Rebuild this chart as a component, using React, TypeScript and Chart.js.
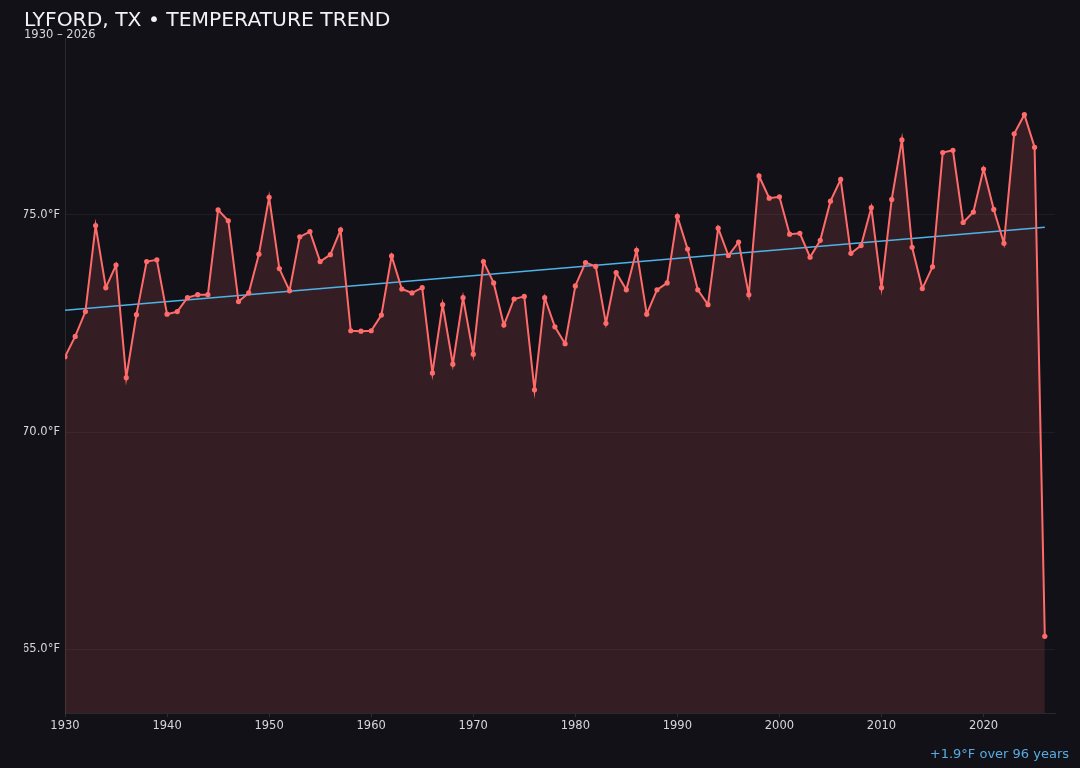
import React, { useEffect, useRef } from "react";
import { Chart, registerables } from "chart.js";

Chart.register(...registerables);

const titleText = "LYFORD, TX • TEMPERATURE TREND";
const subtitleText = "1930 – 2026";
const footerText = "+1.9°F over 96 years";

const years: number[] = [
  1930, 1931, 1932, 1933, 1934, 1935, 1936, 1937, 1938, 1939,
  1940, 1941, 1942, 1943, 1944, 1945, 1946, 1947, 1948, 1949,
  1950, 1951, 1952, 1953, 1954, 1955, 1956, 1957, 1958, 1959,
  1960, 1961, 1962, 1963, 1964, 1965, 1966, 1967, 1968, 1969,
  1970, 1971, 1972, 1973, 1974, 1975, 1976, 1977, 1978, 1979,
  1980, 1981, 1982, 1983, 1984, 1985, 1986, 1987, 1988, 1989,
  1990, 1991, 1992, 1993, 1994, 1995, 1996, 1997, 1998, 1999,
  2000, 2001, 2002, 2003, 2004, 2005, 2006, 2007, 2008, 2009,
  2010, 2011, 2012, 2013, 2014, 2015, 2016, 2017, 2018, 2019,
  2020, 2021, 2022, 2023, 2024, 2025, 2026,
];

const temps: number[] = [
  71.73, 72.2, 72.77, 74.75, 73.32, 73.84, 71.25, 72.7, 73.92, 73.96,
  72.71, 72.77, 73.09, 73.16, 73.16, 75.11, 74.86, 73.0, 73.2, 74.09,
  75.4, 73.76, 73.25, 74.49, 74.61, 73.92, 74.08, 74.65, 72.33, 72.32,
  72.33, 72.69, 74.05, 73.29, 73.2, 73.32, 71.36, 72.93, 71.56, 73.09,
  71.79, 73.92, 73.43, 72.46, 73.06, 73.12, 70.97, 73.09, 72.42, 72.03,
  73.36, 73.9, 73.81, 72.5, 73.67, 73.27, 74.18, 72.71, 73.27, 73.43,
  74.96, 74.21, 73.27, 72.93, 74.69, 74.06, 74.37, 73.16, 75.89, 75.38,
  75.41, 74.55, 74.57, 74.02, 74.41, 75.31, 75.81, 74.11, 74.29, 75.16,
  73.32, 75.35, 76.72, 74.25, 73.3, 73.8, 76.43, 76.48, 74.82, 75.06,
  76.05, 75.12, 74.34, 76.86, 77.3, 76.55, 65.3,
];

const trendYears: number[] = [1930, 2026];
const trendValues: number[] = [72.8, 74.71];

const xTicks: number[] = [1930, 1940, 1950, 1960, 1970, 1980, 1990, 2000, 2010, 2020];
const yTicks: number[] = [65, 70, 75];

const FONT = "DejaVu Sans";

export default function App() {
  const ref = useRef<HTMLCanvasElement | null>(null);

  useEffect(() => {
    if (!ref.current) return;
    const dMin = Math.min(...temps);
    const dMax = Math.max(...temps);
    const pad = (dMax - dMin) * 0.147;

    const footerPlugin = {
      id: "footerNote",
      afterDraw(chart: any) {
        const ctx = chart.ctx;
        ctx.save();
        ctx.font = `13px '${FONT}'`;
        ctx.fillStyle = "#58ace0";
        ctx.textAlign = "right";
        ctx.textBaseline = "middle";
        ctx.fillText(footerText, chart.width - 11, 755);
        ctx.restore();
      },
    };

    const chart = new Chart(ref.current, {
      type: "line",
      data: {
        datasets: [
          {
            label: "Temperature",
            data: years.map((y, i) => ({ x: y, y: temps[i] })),
            borderColor: "#ff6b6b",
            backgroundColor: "rgba(255,107,107,0.15)",
            pointBackgroundColor: "#ff6b6b",
            pointBorderWidth: 0,
            pointRadius: 2.6,
            borderWidth: 2,
            tension: 0,
            fill: "start",
          },
          {
            label: "Trend",
            data: trendYears.map((y, i) => ({ x: y, y: trendValues[i] })),
            borderColor: "#4fb3e8",
            borderWidth: 1.5,
            pointRadius: 0,
            fill: false,
          },
        ],
      },
      options: {
        animation: false,
        responsive: false,
        maintainAspectRatio: false,
        layout: { padding: { top: 9, left: 24, right: 25, bottom: 0 } },
        plugins: {
          legend: { display: false },
          tooltip: { enabled: false },
          filler: { drawTime: "beforeDatasetsDraw" } as any,
          title: {
            display: true,
            text: titleText,
            align: "start",
            color: "#f2f2f4",
            font: { family: FONT, size: 20.3, weight: "normal", lineHeight: "24px" },
            padding: { top: 0, bottom: 0 },
          },
          subtitle: {
            display: true,
            text: subtitleText,
            align: "start",
            color: "#d6d6dc",
            font: { family: FONT, size: 11.5, weight: "normal", lineHeight: "8px" },
            padding: { top: -2, bottom: -1 },
          },
        },
        scales: {
          x: {
            type: "linear",
            min: 1930,
            max: 2027,
            afterBuildTicks: (scale: any) => {
              scale.ticks = xTicks.map((v) => ({ value: v }));
            },
            afterFit: (scale: any) => {
              scale.height = 55;
            },
            ticks: {
              color: "#d6d6dc",
              font: { family: FONT, size: 11.5 },
              padding: 2,
              maxRotation: 0,
              callback: (v: any) => String(v),
            },
            grid: {
              drawOnChartArea: false,
              drawTicks: true,
              tickLength: 4,
              color: "rgba(255,255,255,0.12)",
            },
            border: { color: "rgba(255,255,255,0.1)" },
          },
          y: {
            type: "linear",
            min: dMin - pad,
            max: dMax + pad,
            afterBuildTicks: (scale: any) => {
              scale.ticks = yTicks.map((v) => ({ value: v }));
            },
            afterFit: (scale: any) => {
              scale.width = 41;
            },
            ticks: {
              color: "#d6d6dc",
              font: { family: FONT, size: 11.5 },
              padding: 5,
              callback: (v: any) => Number(v).toFixed(1) + "°F",
            },
            grid: {
              drawTicks: false,
              color: "rgba(255,255,255,0.05)",
            },
            border: { color: "rgba(255,255,255,0.1)" },
          },
        },
      },
      plugins: [footerPlugin],
    });
    return () => chart.destroy();
  }, []);

  return (
    <div
      style={{
        position: "fixed",
        left: 0,
        top: 0,
        width: 1080,
        height: 768,
        background: "#121117",
      }}
    >
      <canvas ref={ref} width={1080} height={768} style={{ width: 1080, height: 768, display: "block" }} />
    </div>
  );
}
